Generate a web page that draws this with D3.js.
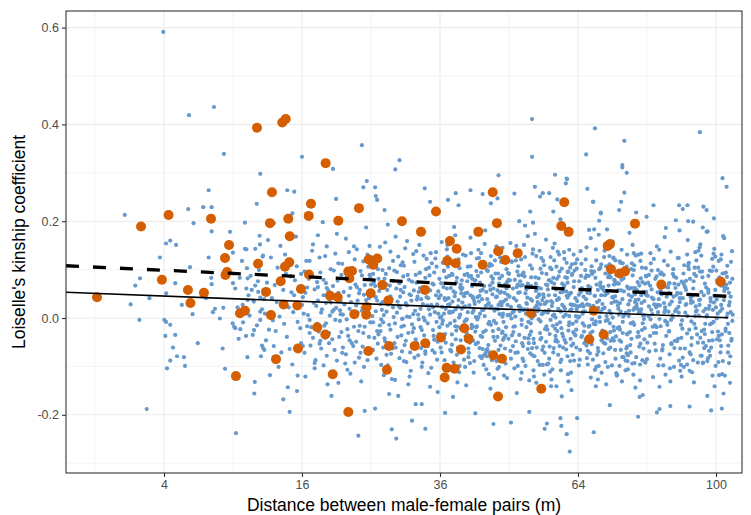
<!DOCTYPE html>
<html>
<head>
<meta charset="utf-8">
<script src="https://cdn.jsdelivr.net/npm/d3@7"></script>
<style>
  body { margin: 0; background: #fff; }
  text { font-family: "Liberation Sans", Arial, sans-serif; }
</style>
</head>
<body>
<div id="chart"></div>
<script>
// axis breaks (distance axis is square-root scaled)
var xTicks = [4, 16, 36, 64, 100];
var xMinor = [1, 9, 25, 49, 81];
var yTicks = [-0.2, 0, 0.2, 0.4, 0.6];
var yMinor = [-0.3, -0.1, 0.1, 0.3, 0.5];

// fitted lines, endpoints [distance, kinship]
var solidLine = [[0.3364, 0.0531], [103.5, 0.0006]];
var dashedLine = [[0.3364, 0.108], [103.5, 0.0448]];

// highlighted pairs [distance, kinship]
var orangePairs = [
  [1.06,.043],[2.78,.189],[4.27,.213],[7.19,.205],[8.66,.151],[8.32,.124],[11.21,.393],[3.88,.079],[5.51,.058],[6.65,.052],
  [5.68,.031],[8.36,.089],[8.49,.095],[11.31,.112],[9.62,.010],[10.07,.015],[9.26,-.120],[12.10,.054],[12.71,.260],[18.86,.320],
  [17.06,.236],[16.79,.211],[14.45,.205],[12.50,.196],[14.61,.169],[20.49,.201],[23.29,.227],[29.69,.200],[32.77,.178],[35.31,.220],
  [14.56,.115],[14.09,.106],[13.63,.076],[16.82,.090],[15.88,.060],[19.41,.046],[20.41,.043],[21.82,.096],[22.32,.097],[21.96,.082],
  [24.67,.121],[25.92,.123],[25.33,.110],[26.67,.068],[24.96,.051],[33.44,.058],[13.95,.028],[15.46,.026],[12.61,.006],[27.57,.036],
  [24.38,.023],[22.64,.008],[24.32,.007],[17.82,-.019],[18.82,-.034],[15.54,-.063],[13.13,-.085],[24.61,-.068],[27.68,-.058],[31.73,-.058],
  [33.49,-.052],[27.37,-.107],[19.76,-.116],[21.82,-.194],[36.17,-.040],[45.75,.260],[46.59,.196],[42.97,.178],[37.76,.159],[38.96,.143],
  [46.85,.138],[50.78,.134],[48.25,.120],[37.28,.118],[38.78,.113],[43.81,.110],[60.86,.239],[60.18,.190],[61.86,.178],[71.07,.149],
  [71.64,.153],[71.88,.101],[73.98,.092],[75.36,.096],[40.35,-.021],[41.16,-.043],[39.74,-.065],[45.86,-.077],[47.59,-.084],[37.17,-.103],
  [38.60,-.105],[36.82,-.123],[46.8,-.162],[55.77,-.146],[53.57,.010],[67.7,.015],[66.65,-.044],[70.1,-.034],[77.9,.195],[84.77,.069],
  [101.4,.075],[13.8,.404],[14.17,.411]
];

// all pairs [distance, kinship]
var bluePairs = [
  // sparse short distances
  [3.96,.591],[5.58,.419],[7.42,.436],[8.23,.339],[11.53,.298],[7.01,.264],[11.18,.236],[2.05,.213],[5.53,.225],[6.6,.229],
  [7.24,.229],[10.07,.197],[7.24,.179],[8.74,.178],[11.47,.170],[4.12,.154],[4.37,.160],[4.73,.151],[9.0,.135],[10.07,.143],
  [11.04,.143],[11.8,.129],[3.77,.125],[7.01,.125],[2.51,.067],[2.73,.082],[2.70,-.004],[4.13,.051],[4.68,.072],[5.65,.105],
  [7.21,.083],[7.24,.070],[5.83,.008],[4.02,-.004],[4.12,-.008],[4.37,-.014],[4.08,-.037],[4.68,-.035],[4.54,-.061],[4.37,-.088],
  [4.79,-.079],[4.18,-.104],[5.24,-.081],[5.31,-.099],[3.06,-.188],[7.34,.012],[7.5,.019],[7.9,-.001],[8.18,.021],[8.12,-.063],
  [8.32,-.105],[8.97,-.011],[9.2,-.021],[9.65,-.023],[9.0,.072],[9.26,-.238],[10.95,-.156],[10.17,-.037],[10.92,-.025],[11.53,-.004],
  [11.7,-.057],[11.93,-.066],[9.86,.027],[10.32,.037],[10.2,.061],[11.04,.067],[11.33,.054],[11.53,.013],[10.26,.103],[11.76,.127],
  [9.06,.092],[10.32,.082],[11.53,.042],[9.95,.011],[3.2,.041],[2.3,.028],[5.9,.196],[6.2,-.052],[6.8,.041],[5.1,.027],
  // low tail
  [15.43,-.151],[14.6,-.194],[23.2,-.243],[28.1,-.230],[28.8,-.249],[31.3,-.212],[33.5,-.229],[45.9,-.219],[49.4,-.216],[56.5,-.229],
  [57.0,-.218],[60.0,-.207],[60.2,-.223],[61.4,-.240],[62.1,-.276],[63.8,-.207],[67.7,-.236],[71.6,-.180],[78.7,-.204],[83.6,-.195],
  [84.3,-.188],[98.6,-.191],[101.7,-.187],[92.5,-.183],[87.2,-.182],[53.2,-.194],[42.4,-.197],[36.9,-.196],[32.9,-.178],[31.9,-.178],
  [25.6,-.187],[24.1,-.192],[27.7,-.157],
  // high tail
  [53.8,.411],[53.8,.333],[68.0,.392],[75.2,.366],[65.9,.338],[74.7,.316],[74.7,.311],[75.8,.300],[95.4,.384],[46.9,.295],
  [58.8,.296],[61.4,.288],[101.9,.289],[103.1,.271],[75.2,.259],[74.4,.240],[67.6,.240],[82.7,.233],[89.6,.233],[90.6,.225],
  [91.9,.233],[96.4,.230],[97.3,.223],[99.4,.206],[73.9,.223],[69.4,.216],[69.0,.201],[78.2,.218],[80.9,.209],[88.7,.202],
  [92.1,.200],[93.5,.199],[96.2,.187],[97.3,.178],[102.4,.165],[16.0,.333],[23.7,.357],[19.8,.308],[28.65,.307],[29.3,.326],
  [24.4,.283],[23.9,.270],[14.34,.264],[15.12,.261],[20.2,.246],[25.6,.270],[25.7,.252],[25.9,.244],[27.0,.223],[33.4,.268],
  [38.8,.258],[41.5,.264],[43.8,.256],[50.1,.257],[61.5,.287],[61.2,.278],[54.4,.271],[56.1,.258],[57.5,.258],[66.2,.267],
  [67.5,.240],[34.3,.240],[37.4,.244],[39.3,.233],[45.4,.237],[46.7,.247],[53.4,.220],[55.5,.251],[59.3,.245],[58.4,.220],
  [69.4,.218],[66.6,.182],[51.1,.200],
  // 9-16 m
  [9.2,.061],[9.5,-.043],[9.8,.118],[10.0,.012],[10.3,-.081],[10.6,.087],[10.9,.034],[11.2,-.015],[11.5,.152],[11.8,-.062],
  [12.0,.009],[12.2,.073],[12.5,-.118],[12.7,.041],[12.9,.196],[13.1,-.027],[13.3,.104],[13.5,.003],[13.7,-.071],[13.9,.058],
  [14.1,.131],[14.3,-.039],[14.5,.022],[14.7,.086],[14.9,-.096],[15.1,.047],[15.3,.168],[15.5,-.008],[15.7,.064],[15.9,-.052],
  [9.4,.022],[9.9,-.009],[10.4,.047],[10.8,-.035],[11.3,.076],[11.7,.018],[12.1,-.046],[12.6,.125],[13.0,.068],[13.4,-.101],
  [13.8,.029],[14.2,.091],[14.6,-.064],[15.0,.012],[15.4,.107],[15.8,-.021],[10.2,.142],[11.0,-.132],[11.9,.039],[12.8,-.005],
  [13.6,.149],[14.4,-.143],[15.2,.078],[15.6,.029],[9.6,.083],[10.7,.058],[11.6,-.079],[12.4,-.024],[13.2,.033],[14.0,-.012],
  [14.8,.053],[15.5,-.119],[9.1,-.018],[10.5,.005],[11.4,.099],[12.3,.161],[13.9,-.168],[14.9,.216],[15.9,.091],[12.9,-.058],
  // 16-25 m
  [16.1,.043],[16.3,-.072],[16.5,.118],[16.7,.006],[16.9,-.031],[17.1,.087],[17.3,.152],[17.5,-.104],[17.7,.025],[17.9,.064],
  [18.1,-.053],[18.3,.011],[18.5,.198],[18.7,-.016],[18.9,.072],[19.1,-.137],[19.3,.039],[19.5,.101],[19.7,-.044],[19.9,.017],
  [20.1,.133],[20.3,-.088],[20.5,.052],[20.7,-.006],[20.9,.089],[21.1,-.061],[21.3,.028],[21.5,.164],[21.7,-.023],[21.9,.046],
  [22.1,-.115],[22.3,.079],[22.5,.004],[22.7,.121],[22.9,-.049],[23.1,.036],[23.3,-.082],[23.5,.097],[23.7,.015],[23.9,-.031],
  [24.1,.068],[24.3,.187],[24.5,-.067],[24.7,.041],[24.9,-.009],[16.2,.009],[16.6,.063],[17.0,-.057],[17.4,.031],[17.8,-.012],
  [18.2,.094],[18.6,.047],[19.0,-.078],[19.4,.005],[19.8,.066],[20.2,.021],[20.6,-.039],[21.0,.112],[21.4,-.094],[21.8,.084],
  [22.2,.033],[22.6,-.018],[23.0,.142],[23.4,.058],[23.8,-.059],[24.2,.003],[24.6,.106],[16.4,-.121],[17.2,.139],[18.0,-.028],
  [18.8,.128],[19.6,-.161],[20.4,.077],[21.2,.054],[22.0,-.046],[22.8,.069],[23.6,-.131],[24.4,.024],[24.8,.149],[16.8,.081],
  [17.6,-.087],[18.4,.018],[19.2,.057],[20.0,-.066],[20.8,.035],[21.6,-.003],[22.4,.093],[23.2,-.027],[24.0,.048],[16.0,.027],
  [17.5,.059],[18.9,-.011],[20.3,.174],[21.7,-.107],[23.1,.011],[24.5,-.087],[16.9,-.004],[18.1,.125],[19.3,-.052],[20.7,.016],
  [22.1,.062],[23.5,-.072],[24.9,.083],[17.3,-.041],[19.9,.098],[21.1,.007],[22.5,-.058],[23.9,.117],[16.3,.096],[18.6,-.098],
  [20.9,-.029],[22.9,.026],[24.1,-.018],[17.8,.074],[21.5,-.075],[19.5,.032],[23.3,.051],[16.6,-.017],[20.5,-.134],[24.7,-.039],
  [18.3,-.063],[22.7,-.092],[17.9,.171],[21.9,.136],[19.0,.148],[23.7,.088],[20.1,-.004],[24.3,.037],[16.1,-.058],[18.8,-.041],
  [16.4,.052],[17.1,-.019],[17.9,.036],[18.6,.079],[19.3,-.031],[20.0,.046],[20.8,.008],[21.5,.092],[22.3,-.052],[23.0,.064],
  [23.8,.021],[24.5,.131],[16.9,.118],[18.2,-.047],[19.7,.013],[21.0,-.072],[22.6,.148],[24.0,-.101],[17.5,-.093],[19.0,.062],
  [20.5,.113],[22.0,.019],[23.4,-.016],[18.9,.031],[21.8,-.037],[24.8,.089],
  // 25-36 m
  [25.1,.052],[25.3,-.066],[25.5,.111],[25.7,.014],[25.9,-.027],[26.1,.081],[26.3,.147],[26.5,-.097],[26.7,.033],[26.9,.006],
  [27.1,-.048],[27.3,.069],[27.5,.193],[27.7,-.014],[27.9,.045],[28.1,-.126],[28.3,.022],[28.5,.098],[28.7,-.061],[28.9,.011],
  [29.1,.127],[29.3,-.083],[29.5,.058],[29.7,-.002],[29.9,.086],[30.1,-.056],[30.3,.031],[30.5,.159],[30.7,-.031],[30.9,.049],
  [31.1,-.109],[31.3,.075],[31.5,.008],[31.7,.116],[31.9,-.044],[32.1,.038],[32.3,-.077],[32.5,.093],[32.7,.019],[32.9,-.025],
  [33.1,.064],[33.3,.178],[33.5,-.069],[33.7,.043],[33.9,-.011],[34.1,.104],[34.3,-.142],[34.5,.027],[34.7,.071],[34.9,-.037],
  [35.1,.012],[35.3,.136],[35.5,-.086],[35.7,.055],[35.9,-.019],[25.2,.004],[25.6,.066],[26.0,-.053],[26.4,.029],[26.8,-.009],
  [27.2,.091],[27.6,.042],[28.0,-.074],[28.4,.002],[28.8,.061],[29.2,.024],[29.6,-.036],[30.0,.108],[30.4,-.091],[30.8,.079],
  [31.2,.036],[31.6,-.021],[32.0,.138],[32.4,.054],[32.8,-.062],[33.2,.001],[33.6,.101],[34.0,-.114],[34.4,.134],[34.8,-.025],
  [35.2,.123],[35.6,-.153],[25.4,.073],[26.2,.056],[27.0,-.042],[27.8,.067],[28.6,-.128],[29.4,.021],[30.2,.144],[31.0,-.071],
  [31.8,.015],[32.6,.062],[33.4,-.005],[34.2,.088],[35.0,-.045],[35.8,.041],[25.8,-.084],[26.6,.017],[27.4,.058],[28.2,-.063],
  [29.0,.034],[29.8,-.001],[30.6,.089],[31.4,-.029],[32.2,.044],[33.0,-.092],[33.8,.026],[34.6,.113],[35.4,-.008],[25.0,.126],
  [26.9,-.118],[28.9,.095],[30.9,.002],[32.9,-.101],[34.9,.069],[25.9,.036],[27.9,-.024],[29.9,.053],[31.9,.089],[33.9,-.058],
  [35.9,.081],[26.3,-.015],[28.3,.118],[30.3,-.047],[32.3,.007],[34.3,.057],[27.1,.156],[29.1,-.161],[31.1,.047],[33.1,.029],
  [35.1,-.072],[26.1,-.034],[28.1,.039],[30.1,.064],[32.1,-.052],[34.1,.018],[25.5,-.041],[27.5,-.098],[29.5,.109],[31.5,.132],
  [33.5,.083],[35.5,.028],[26.7,.099],[28.7,.168],[30.7,-.137],[32.7,-.019],[34.7,-.067],[27.3,.013],[31.3,-.013],[35.3,.047],
  [29.3,.072],[33.3,-.036],[25.3,.091],[34.5,-.103],[30.5,.026],[28.5,-.052],[32.5,.151],[26.5,-.003],[27.7,.103],[31.7,-.082],
  [33.7,.122],[29.7,-.069],[35.7,.009],[30.0,-.016],[34.0,.041],
  [25.3,-.009],[26.0,.101],[26.8,-.061],[27.5,.028],[28.3,.077],[29.0,-.039],[29.8,.115],[30.5,.003],[31.3,-.056],[32.0,.073],
  [32.8,.039],[33.5,-.074],[34.3,.007],[35.0,.094],[35.8,-.034],[25.7,.043],[27.0,.081],[28.6,-.011],[30.0,-.089],[31.6,.057],
  [33.2,.129],[34.8,.022],[25.0,.069],[26.4,-.027],[27.9,.137],[29.4,.044],[30.9,-.121],[32.4,-.003],[33.9,.061],[35.4,.106],
  [27.3,-.076],[29.6,-.018],[32.6,.094],[35.6,-.049],
  // 36-49 m
  [36.1,.047],[36.3,-.071],[36.5,.114],[36.7,.009],[36.9,-.033],[37.1,.084],[37.3,.151],[37.5,-.101],[37.7,.028],[37.9,.062],
  [38.1,-.055],[38.3,.013],[38.5,.188],[38.7,-.017],[38.9,.074],[39.1,-.133],[39.3,.037],[39.5,.103],[39.7,-.046],[39.9,.019],
  [40.1,.131],[40.3,-.086],[40.5,.051],[40.7,-.004],[40.9,.091],[41.1,-.063],[41.3,.026],[41.5,.166],[41.7,-.021],[41.9,.044],
  [42.1,-.113],[42.3,.077],[42.5,.002],[42.7,.123],[42.9,-.051],[43.1,.034],[43.3,-.079],[43.5,.094],[43.7,.016],[43.9,-.029],
  [44.1,.066],[44.3,.181],[44.5,-.068],[44.7,.039],[44.9,-.012],[45.1,.107],[45.3,-.146],[45.5,.024],[45.7,.073],[45.9,-.039],
  [46.1,.015],[46.3,.139],[46.5,-.089],[46.7,.057],[46.9,-.023],[47.1,.082],[47.3,-.057],[47.5,.031],[47.7,.145],[47.9,-.008],
  [48.1,.052],[48.3,-.094],[48.5,.118],[48.7,.006],[48.9,-.043],[36.2,.003],[36.6,.064],[37.0,-.051],[37.4,.027],[37.8,-.011],
  [38.2,.089],[38.6,.045],[39.0,-.076],[39.4,.001],[39.8,.059],[40.2,.022],[40.6,-.038],[41.0,.106],[41.4,-.093],[41.8,.081],
  [42.2,.035],[42.6,-.019],[43.0,.141],[43.4,.056],[43.8,-.064],[44.2,.004],[44.6,.099],[45.0,-.116],[45.4,.128],[45.8,-.027],
  [46.2,.119],[46.6,-.158],[47.0,.071],[47.4,.054],[47.8,-.045],[48.2,.069],[48.6,-.124],[36.4,.023],[37.2,.142],[38.0,-.069],
  [38.8,.018],[39.6,.063],[40.4,-.007],[41.2,.086],[42.0,-.047],[42.8,.043],[43.6,-.083],[44.4,.025],[45.2,.112],[46.0,-.006],
  [46.8,.092],[47.6,-.031],[48.4,.038],[36.8,-.087],[37.6,.011],[38.4,.055],[39.2,-.061],[40.0,.032],[40.8,-.003],[41.6,.087],
  [42.4,-.028],[43.2,.046],[44.0,-.097],[44.8,.028],[45.6,.109],[46.4,-.011],[47.2,.125],[48.0,-.119],[48.8,.093],[36.0,.001],
  [37.9,-.102],[39.9,.078],[41.9,.011],[43.9,-.078],[45.9,.061],[47.9,.034],[36.9,.037],[38.9,-.026],[40.9,.052],[42.9,.087],
  [44.9,-.056],[46.9,.027],[48.9,.079],[37.3,-.016],[39.3,.121],[41.3,-.049],[43.3,.009],[45.3,.058],[47.3,-.081],[36.3,.157],
  [38.3,-.163],[40.3,.045],[42.3,.029],[44.3,-.074],[46.3,.019],[48.3,-.036],[37.5,.041],[39.5,-.099],[41.5,.107],[43.5,.134],
  [45.5,.086],[47.5,.026],[36.7,.097],[38.7,.171],[40.7,-.139],[42.7,-.017],[44.7,-.064],[46.7,-.105],[48.7,.048],[37.7,.013],
  [41.7,-.014],[45.7,.049],[39.7,.069],[43.7,-.039],[47.7,.003],[38.1,.091],[44.5,-.106],[40.5,.024],[42.5,-.054],[46.5,.148],
  [36.5,-.005],[48.5,.101],[41.1,-.081],[43.1,.124],[45.1,-.071],[47.1,.008],[39.1,-.018],[37.1,.039],
  [36.2,.072],[36.6,-.041],[37.0,.019],[37.4,.106],[37.8,-.066],[38.2,.034],[38.6,-.006],[39.0,.083],[39.4,-.112],[39.8,.051],
  [40.2,-.024],[40.6,.129],[41.0,.012],[41.4,-.051],[41.8,.066],[42.2,-.089],[42.6,.097],[43.0,.002],[43.4,-.037],[43.8,.058],
  [44.2,.153],[44.6,-.079],[45.0,.031],[45.4,-.014],[45.8,.081],[46.2,-.047],[46.6,.044],[47.0,-.101],[47.4,.116],[47.8,.009],
  [48.2,-.063],[48.6,.074],[36.4,-.012],[37.2,.061],[38.0,.113],[38.8,-.044],[39.6,.007],[40.4,.089],[41.2,-.072],[42.0,.041],
  [42.8,-.003],[43.6,.106],[44.4,-.026],[45.2,.067],[46.0,-.124],[46.8,.018],[47.6,.087],[48.4,-.019],[36.8,.041],[38.4,-.092],
  [40.0,.062],[41.6,.134],[43.2,-.062],[44.8,.097],[46.4,.043],[48.0,-.041],[37.6,.087],[39.2,.024],[40.8,-.031],[42.4,.078],
  [44.0,.017],[45.6,-.087],[47.2,.052],[48.8,.121],[36.1,-.061],[37.9,.011],[39.7,-.021],[41.5,.047],[43.3,.073],[45.1,-.008],
  [46.9,-.066],[48.7,.027],[37.3,.127],[40.5,-.101],[43.7,.039],[46.3,.092],[38.7,.052],[41.9,-.017],[45.3,.021],[47.7,-.028],
  [36.7,.098],[39.1,.146],[42.1,.016],[44.5,.054],[47.3,.033],[38.1,-.034],[40.9,.076],[43.9,.112],[46.7,-.039],[48.5,.061],
  // 49-64 m
  [49.1,.044],[49.3,-.068],[49.5,.117],[49.7,.011],[49.9,-.029],[50.2,.079],[50.5,.149],[50.8,-.099],[51.1,.025],[51.4,.067],
  [51.7,-.052],[52.0,.016],[52.3,.191],[52.6,-.019],[52.9,.071],[53.2,-.129],[53.5,.039],[53.8,.102],[54.1,-.043],[54.4,.021],
  [54.7,.128],[55.0,-.089],[55.3,.049],[55.6,-.007],[55.9,.093],[56.2,-.059],[56.5,.029],[56.8,.162],[57.1,-.024],[57.4,.047],
  [57.7,-.111],[58.0,.074],[58.3,.005],[58.6,.119],[58.9,-.048],[59.2,.037],[59.5,-.076],[59.8,.096],[60.1,.013],[60.4,-.032],
  [60.7,.063],[61.0,.184],[61.3,-.065],[61.6,.042],[61.9,-.015],[62.2,.104],[62.5,-.149],[62.8,.027],[63.1,.076],[63.4,-.036],
  [63.7,.018],[49.2,.006],[49.8,.061],[50.4,-.048],[51.0,.024],[51.6,-.014],[52.2,.086],[52.8,.042],[53.4,-.073],[54.0,.003],
  [54.6,.056],[55.2,.019],[55.8,-.041],[56.4,.109],[57.0,-.096],[57.6,.078],[58.2,.032],[58.8,-.022],[59.4,.137],[60.0,.053],
  [60.6,-.061],[61.2,.007],[61.8,.096],[62.4,-.113],[63.0,.131],[63.6,-.024],[49.6,.116],[50.6,-.155],[51.8,.068],[52.4,.051],
  [53.0,-.042],[53.6,.066],[54.2,-.121],[54.8,.026],[55.4,.139],[56.0,-.066],[56.6,.014],[57.2,.059],[57.8,-.004],[58.4,.083],
  [59.0,-.044],[59.6,.041],[60.2,-.086],[60.8,.023],[61.4,.114],[62.0,-.009],[62.6,.089],[63.2,-.033],[63.8,.035],[49.4,-.084],
  [50.0,.014],[50.9,.052],[51.9,-.058],[52.7,.029],[53.7,-.001],[54.5,.084],[55.5,-.031],[56.3,.043],[57.3,-.094],[58.1,.025],
  [59.1,.106],[59.9,-.009],[60.9,.122],[61.7,-.116],[62.7,.091],[63.5,.004],[50.1,-.104],[51.3,.076],[52.5,.009],[53.9,-.077],
  [55.1,.063],[56.7,.031],[57.9,.035],[59.3,-.027],[60.5,.054],[61.5,.083],[62.9,-.053],[63.9,.024],[49.9,-.018],[51.5,.121],
  [53.1,-.052],[54.3,.012],[55.7,.061],[57.5,-.084],[58.7,.154],[60.3,-.162],[61.9,.047],[63.3,.026],[50.3,-.072],[52.1,.018],
  [53.3,-.035],[54.9,.043],[56.1,-.097],[57.7,.104],[59.7,.131],[61.1,.084],[62.3,.028],[50.7,.096],[52.9,.169],[54.7,-.134],
  [56.9,-.017],[58.5,-.062],[60.1,-.108],[62.1,.051],[63.7,.102],[51.2,.014],[53.5,-.011],[55.3,.047],[57.1,.068],[58.9,-.037],
  [60.7,.003],[62.5,-.057],[49.5,-.001],[51.7,.089],[54.1,-.108],[56.5,-.072],[58.3,.145],[60.9,-.045],[63.1,-.088],[52.6,.059],
  [55.9,.008],[59.5,.019],[62.8,-.012],[50.5,.036],[53.8,-.062],[57.4,.017],[61.3,.055],[49.3,.155],[54.4,.174],[58.0,-.127],
  [61.6,-.079],[51.1,-.035],[55.6,.102],[60.4,.071],[63.4,.113],[52.0,-.089],[56.8,-.049],[59.2,.081],[62.2,.016],[50.8,.069],
  [57.9,-.141],[53.9,.133],[58.6,.007],[61.8,-.026],[55.0,.033],[62.0,.141],[51.4,-.126],[56.2,.118],[59.8,-.058],[54.0,.197],
  [60.0,.204],
  [49.2,.078],[49.6,-.036],[50.0,.041],[50.4,.119],[50.8,-.071],[51.2,.053],[51.6,-.004],[52.0,.094],[52.4,-.099],[52.8,.018],
  [53.2,.063],[53.6,-.028],[54.0,.142],[54.4,.006],[54.8,-.061],[55.2,.082],[55.6,-.044],[56.0,.037],[56.4,-.117],[56.8,.069],
  [57.2,.011],[57.6,-.033],[58.0,.101],[58.4,-.071],[58.8,.047],[59.2,-.013],[59.6,.086],[60.0,-.091],[60.4,.027],[60.8,.136],
  [61.2,-.051],[61.6,.073],[62.0,.004],[62.4,.052],[62.8,-.076],[63.2,.098],[63.6,-.007],[49.4,.023],[50.2,-.017],[51.0,.088],
  [51.8,-.084],[52.6,.031],[53.4,.109],[54.2,-.052],[55.0,.014],[55.8,.124],[56.6,-.023],[57.4,.078],[58.2,-.106],[59.0,.059],
  [59.8,.015],[60.6,-.038],[61.4,.046],[62.2,-.089],[63.0,.064],[63.8,.121],[49.8,-.058],[51.4,.021],[53.0,-.008],[54.6,.071],
  [56.2,.049],[57.8,.126],[59.4,-.049],[61.0,.019],[62.6,.111],[50.6,.064],[52.2,-.041],[53.8,.036],[55.4,-.097],[57.0,.034],
  [58.6,.071],[60.2,-.021],[61.8,-.131],[63.4,.041],[49.0,.091],[50.9,.107],[52.9,-.064],[54.8,.058],[56.9,.091],[58.9,.001],
  [60.9,.067],[62.9,-.029],[50.3,.003],[52.3,.126],[54.3,-.079],[56.3,.011],[58.3,-.016],[60.3,.102],[62.3,-.043],[51.6,-.113],
  [53.6,.084],[55.6,.028],[57.6,-.059],[59.6,.039],[61.6,.095],[63.6,-.061],[55.2,-.003],[59.1,-.141],[52.1,.151],[62.5,.018],
  // 64-81 m
  [64.2,.048],[64.5,-.066],[64.8,.112],[65.1,.009],[65.4,-.028],[65.7,.083],[66.0,.146],[66.3,-.096],[66.6,.027],[66.9,.063],
  [67.2,-.054],[67.5,.014],[67.8,.183],[68.1,-.013],[68.4,.069],[68.7,-.127],[69.0,.036],[69.3,.104],[69.6,-.046],[69.9,.019],
  [70.2,.126],[70.5,-.091],[70.8,.053],[71.1,-.004],[71.4,.089],[71.7,-.061],[72.0,.031],[72.3,.158],[72.6,-.026],[72.9,.045],
  [73.2,-.114],[73.5,.072],[73.8,.007],[74.1,.117],[74.4,-.049],[74.7,.039],[75.0,-.081],[75.3,.098],[75.6,.011],[75.9,-.034],
  [76.2,.061],[76.5,.176],[76.8,-.071],[77.1,.044],[77.4,-.009],[77.7,.109],[78.0,-.144],[78.3,.024],[78.6,.074],[78.9,-.038],
  [79.2,.016],[79.5,.133],[79.8,-.087],[80.1,.054],[80.4,-.021],[80.7,.087],[64.3,.003],[64.9,.058],[65.5,-.052],[66.1,.028],
  [66.7,-.016],[67.3,.091],[67.9,.046],[68.5,-.076],[69.1,.002],[69.7,.061],[70.3,.021],[70.9,-.042],[71.5,.111],[72.1,-.098],
  [72.7,.079],[73.3,.034],[73.9,-.019],[74.5,.141],[75.1,.055],[75.7,-.063],[76.3,.004],[76.9,.101],[77.5,-.117],[78.1,.129],
  [78.7,-.029],[79.3,.118],[79.9,-.159],[80.5,.071],[64.6,.053],[65.8,-.045],[66.4,.066],[67.0,-.123],[67.6,.025],[68.2,.142],
  [68.8,-.069],[69.4,.013],[70.0,.064],[70.6,-.006],[71.2,.084],[71.8,-.047],[72.4,.042],[73.0,-.084],[73.6,.026],[74.2,.114],
  [74.8,-.008],[75.4,.093],[76.0,-.032],[76.6,.036],[77.2,-.094],[77.8,.021],[78.4,.057],[79.0,-.059],[79.6,.031],[80.2,-.002],
  [80.8,.086],[64.4,-.086],[65.2,.013],[66.2,.052],[67.4,-.028],[68.0,.046],[68.9,-.099],[69.8,.029],[70.7,.107],[71.6,-.011],
  [72.5,.123],[73.4,-.118],[74.3,.094],[75.2,.006],[76.1,-.077],[77.0,.062],[77.9,.033],[78.8,.038],[79.7,-.025],[80.6,.051],
  [64.7,.087],[66.5,-.018],[68.3,.119],[70.1,-.051],[71.9,.009],[73.7,.057],[75.5,-.088],[77.3,.151],[79.1,-.163],[80.9,.047],
  [65.0,.029],[66.8,-.073],[68.6,.017],[70.4,-.036],[72.2,.043],[74.0,-.099],[75.8,.106],[77.6,.134],[79.4,.082],[65.3,.024],
  [67.1,.097],[68.9,.172],[70.7,-.137],[72.5,-.018],[74.3,-.066],[76.1,-.106],[77.9,.049],[79.7,.104],[65.6,.014],[67.7,-.012],
  [69.5,.047],[71.3,.067],[73.1,-.038],[74.9,.003],[76.7,-.056],[78.5,.019],[80.3,-.044],[64.1,.001],[66.0,.088],[68.0,-.107],
  [70.0,-.073],[72.0,.147],[74.0,-.046],[76.0,-.089],[78.0,.061],[80.0,.005],[65.9,.039],[69.2,-.008],[72.8,.077],[76.4,.015],
  [79.9,-.011],[67.0,.165],[70.9,.183],[74.6,-.131],[78.2,-.081],[64.9,-.037],[69.0,.101],[73.0,.071],[77.1,.113],[80.6,-.092],
  [66.6,-.049],[71.0,.051],[75.0,.082],[78.9,.011],[68.2,-.141],[72.6,.069],[75.9,.131],[79.3,.012],[67.3,.021],[74.1,-.024],
  [64.3,.076],[64.8,-.039],[65.3,.044],[65.8,.121],[66.3,-.068],[66.8,.051],[67.3,-.003],[67.8,.096],[68.3,-.101],[68.8,.021],
  [69.3,.066],[69.8,-.026],[70.3,.139],[70.8,.004],[71.3,-.064],[71.8,.084],[72.3,-.042],[72.8,.034],[73.3,-.119],[73.8,.071],
  [74.3,.013],[74.8,-.031],[75.3,.103],[75.8,-.073],[76.3,.048],[76.8,-.011],[77.3,.088],[77.8,-.093],[78.3,.029],[78.8,.131],
  [79.3,-.053],[79.8,.074],[80.3,.006],[80.8,.054],[64.5,.025],[65.5,-.016],[66.5,.087],[67.5,-.086],[68.5,.033],[69.5,.111],
  [70.5,-.053],[71.5,.015],[72.5,.125],[73.5,-.021],[74.5,.079],[75.5,-.108],[76.5,.061],[77.5,.017],[78.5,-.039],[79.5,.047],
  [80.5,-.091],[64.9,.062],[66.0,-.057],[67.1,.023],[68.2,-.007],[69.3,.073],[70.4,.047],[71.5,.128],[72.6,-.047],[73.7,.019],
  [74.8,.113],[75.9,.065],[77.0,-.043],[78.1,.037],[79.2,-.096],[80.3,.035],[64.2,-.098],[65.7,.099],[67.2,.107],[68.7,-.062],
  [70.2,.056],[71.7,-.029],[73.2,.089],[74.7,-.081],[76.2,.028],[77.7,.062],[79.2,-.129],[80.7,.103],[65.1,-.011],[66.9,-.031],
  [68.7,.058],[70.5,.092],[72.3,.001],[74.1,.031],[75.9,-.059],[77.7,-.014],[79.5,.018],[64.6,.138],[67.9,.012],[71.1,-.101],
  [74.4,.057],[77.6,.099],[80.1,-.063],[66.1,-.083],[69.6,-.113],[73.0,.119],[76.6,-.029],[79.0,.067],[68.1,.083],[72.9,-.066],
  // 81-105 m
  [81.2,.046],[81.6,-.069],[82.0,.113],[82.4,.008],[82.8,-.031],[83.2,.081],[83.6,.148],[84.0,-.098],[84.4,.026],[84.8,.064],
  [85.2,-.056],[85.6,.012],[86.0,.186],[86.4,-.014],[86.8,.071],[87.2,-.131],[87.6,.034],[88.0,.101],[88.4,-.047],[88.8,.018],
  [89.2,.124],[89.6,-.088],[90.0,.051],[90.4,-.005],[90.8,.092],[91.2,-.063],[91.6,.029],[92.0,.161],[92.4,-.024],[92.8,.043],
  [93.2,-.112],[93.6,.076],[94.0,.004],[94.4,.119],[94.8,-.051],[95.2,.037],[95.6,-.078],[96.0,.096],[96.4,.014],[96.8,-.033],
  [97.2,.063],[97.6,.179],[98.0,-.068],[98.4,.041],[98.8,-.011],[99.2,.106],[99.6,-.141],[100.0,.022],[100.4,.073],[100.8,-.037],
  [101.2,.014],[101.6,.131],[102.0,-.089],[102.4,.056],[102.8,-.022],[103.2,.085],[103.6,-.057],[104.0,.033],[104.4,.116],[104.8,-.006],
  [81.4,.004],[82.2,.059],[83.0,-.053],[83.8,.027],[84.6,-.017],[85.4,.089],[86.2,.044],[87.0,-.075],[87.8,.001],[88.6,.062],
  [89.4,.023],[90.2,-.041],[91.0,.109],[91.8,-.096],[92.6,.081],[93.4,.033],[94.2,-.021],[95.0,.139],[95.8,.054],[96.6,-.062],
  [97.4,.006],[98.2,.098],[99.0,-.119],[99.8,.127],[100.6,-.028],[101.4,.121],[102.2,-.156],[103.0,.069],[103.8,.052],[104.6,-.043],
  [81.8,.067],[82.6,-.122],[83.4,.022],[84.2,.141],[85.0,-.067],[85.8,.016],[86.6,.063],[87.4,-.004],[88.2,.086],[89.0,-.048],
  [89.8,.041],[90.6,-.082],[91.4,.027],[92.2,.112],[93.0,-.007],[93.8,.091],[94.6,-.034],[95.4,.038],[96.2,-.093],[97.0,.019],
  [97.8,.058],[98.6,-.061],[99.4,.032],[100.2,-.001],[101.0,.084],[101.8,-.116],[102.6,.093],[103.4,.009],[104.2,-.079],[81.0,-.085],
  [82.9,.028],[84.9,.049],[86.9,-.027],[88.9,.048],[90.9,-.101],[92.9,.031],[94.9,.104],[96.9,-.012],[98.9,.122],[100.9,-.118],
  [102.9,.094],[104.9,.007],[81.5,.089],[83.5,-.019],[85.5,.118],[87.5,-.052],[89.5,.011],[91.5,.058],[93.5,-.087],[95.5,.152],
  [97.5,-.161],[99.5,.046],[101.5,.027],[103.5,-.071],[82.1,.017],[84.1,.039],[86.1,-.037],[88.1,.044],[90.1,-.097],[92.1,.107],
  [94.1,.136],[96.1,.084],[98.1,.025],[100.1,.098],[102.1,.169],[104.1,-.134],[83.1,-.015],[85.1,-.064],[87.1,-.104],[89.1,.052],
  [91.1,.066],[93.1,-.041],[95.1,.005],[97.1,-.058],[99.1,.017],[101.1,-.046],[103.1,.002],[81.9,-.003],[84.5,.091],[87.0,.072],
  [89.9,-.109],[92.5,-.071],[95.3,.146],[98.0,-.047],[100.7,-.091],[103.3,.061],[82.7,.039],[86.3,-.009],[90.3,.075],[94.3,.013],
  [98.3,-.013],[102.3,.037],[85.7,.167],[89.7,.181],[93.7,-.133],[97.7,-.083],[101.7,-.034],[83.9,.099],[88.3,.071],[92.3,.114],
  [96.3,-.092],[100.3,.078],[104.3,.012],[84.3,-.142],[91.3,.063],[99.3,.133],[86.7,.013],[95.9,-.027],
  [81.3,.073],[81.8,-.037],[82.3,.042],[82.8,.122],[83.3,-.067],[83.8,.053],[84.3,-.002],[84.8,.094],[85.3,-.098],[85.8,.022],
  [86.3,.064],[86.8,-.028],[87.3,.137],[87.8,.006],[88.3,-.062],[88.8,.083],[89.3,-.043],[89.8,.033],[90.3,-.121],[90.8,.072],
  [91.3,.011],[91.8,-.032],[92.3,.101],[92.8,-.075],[93.3,.046],[93.8,-.012],[94.3,.087],[94.8,-.092],[95.3,.027],[95.8,.129],
  [96.3,-.051],[96.8,.071],[97.3,.003],[97.8,.052],[98.3,-.078],[98.8,.097],[99.3,-.008],[99.8,.058],[100.3,-.044],[100.8,.118],
  [101.3,-.071],[101.8,.019],[102.3,.066],[102.8,-.027],[103.3,.108],[103.8,-.093],[104.3,.044],[104.8,.081],[81.5,.024],[82.5,-.018],
  [83.5,.086],[84.5,-.084],[85.5,.031],[86.5,.109],[87.5,-.054],[88.5,.014],[89.5,.124],[90.5,-.022],[91.5,.077],[92.5,-.109],
  [93.5,.061],[94.5,.016],[95.5,-.041],[96.5,.047],[97.5,-.089],[98.5,.034],[99.5,.143],[100.5,.009],[101.5,-.058],[102.5,.063],
  [103.5,-.012],[104.5,-.047],[81.1,-.051],[82.2,.098],[83.4,-.031],[84.6,.057],[85.8,-.006],[87.0,.028],[88.2,-.101],[89.4,.069],
  [90.6,.041],[91.8,.131],[93.0,-.056],[94.2,.024],[95.4,.096],[96.6,-.024],[97.8,.087],[99.0,-.046],[100.2,.038],[101.4,.067],
  [102.6,-.119],[103.8,.026],[104.7,.138],[81.9,.134],[83.9,.012],[85.9,-.117],[87.9,.091],[89.9,-.063],[91.9,.004],[93.9,.104],
  [95.9,-.078],[97.9,.019],[99.9,-.099],[101.9,.092],[103.9,-.031],[86.9,.052],[92.9,.036],[98.9,-.029],[104.1,.073],[90.1,-.014]
];

var margin = {top: 11, right: 9, bottom: 42, left: 66},
    width = 751 - margin.left - margin.right,
    height = 515 - margin.top - margin.bottom;

var svg = d3.select("#chart")
  .append("svg")
  .attr("width", 751)
  .attr("height", 515);

var g = svg.append("g")
  .attr("transform", "translate(" + margin.left + "," + margin.top + ")");

var x = d3.scaleSqrt()
  .domain([0.3364, 107.68])
  .range([0, width]);

var y = d3.scaleLinear()
  .domain([-0.3202, 0.6343])
  .range([height, 0]);

// grid
g.selectAll(".minx").data(xMinor).enter().append("line")
  .attr("x1", d => x(d)).attr("x2", d => x(d))
  .attr("y1", 0).attr("y2", height)
  .attr("stroke", "#ebebeb").attr("stroke-width", 0.55);
g.selectAll(".miny").data(yMinor).enter().append("line")
  .attr("y1", d => y(d)).attr("y2", d => y(d))
  .attr("x1", 0).attr("x2", width)
  .attr("stroke", "#ebebeb").attr("stroke-width", 0.55);
g.selectAll(".majx").data(xTicks).enter().append("line")
  .attr("x1", d => x(d)).attr("x2", d => x(d))
  .attr("y1", 0).attr("y2", height)
  .attr("stroke", "#ebebeb").attr("stroke-width", 1.1);
g.selectAll(".majy").data(yTicks).enter().append("line")
  .attr("y1", d => y(d)).attr("y2", d => y(d))
  .attr("x1", 0).attr("x2", width)
  .attr("stroke", "#ebebeb").attr("stroke-width", 1.1);

svg.append("clipPath").attr("id", "panel")
  .append("rect").attr("width", width).attr("height", height);

var pts = g.append("g").attr("clip-path", "url(#panel)");

pts.selectAll(".blue").data(bluePairs).enter().append("circle")
  .attr("cx", d => x(d[0]))
  .attr("cy", d => y(d[1]))
  .attr("r", 2.1)
  .attr("fill", "#6699cc");

pts.selectAll(".orange").data(orangePairs).enter().append("circle")
  .attr("cx", d => x(d[0]))
  .attr("cy", d => y(d[1]))
  .attr("r", 5)
  .attr("fill", "#d55e00");

var line = d3.line()
  .x(d => x(d[0]))
  .y(d => y(d[1]));

pts.append("path").datum(solidLine)
  .attr("fill", "none").attr("stroke", "#000")
  .attr("stroke-width", 1.6)
  .attr("d", line);

pts.append("path").datum(dashedLine)
  .attr("fill", "none").attr("stroke", "#000")
  .attr("stroke-width", 3.3)
  .attr("stroke-dasharray", "13,14")
  .attr("d", line);

g.append("rect")
  .attr("width", width).attr("height", height)
  .attr("fill", "none").attr("stroke", "#333").attr("stroke-width", 1.1);

// axes
var xAxis = g.append("g")
  .attr("transform", "translate(0," + height + ")")
  .call(d3.axisBottom(x).tickValues(xTicks).tickSize(4).tickPadding(3).tickFormat(d3.format("d")));
var yAxis = g.append("g")
  .call(d3.axisLeft(y).tickValues(yTicks).tickSize(4).tickPadding(3).tickFormat(d => d.toFixed(1)));

[xAxis, yAxis].forEach(function(a) {
  a.select(".domain").remove();
  a.selectAll(".tick line").attr("stroke", "#333").attr("stroke-width", 1.1);
  a.selectAll(".tick text")
    .attr("fill", "#4d4d4d")
    .style("font-size", "12.5px")
    .style("font-family", "'Liberation Sans', Arial, sans-serif");
});

svg.append("text")
  .attr("x", margin.left + width / 2)
  .attr("y", 511)
  .attr("text-anchor", "middle")
  .style("font-size", "17.5px")
  .text("Distance between male-female pairs (m)");

svg.append("text")
  .attr("transform", "translate(25," + (margin.top + height / 2) + ") rotate(-90)")
  .attr("text-anchor", "middle")
  .style("font-size", "17.5px")
  .text("Loiselle's kinship coefficient");
</script>
</body>
</html>
